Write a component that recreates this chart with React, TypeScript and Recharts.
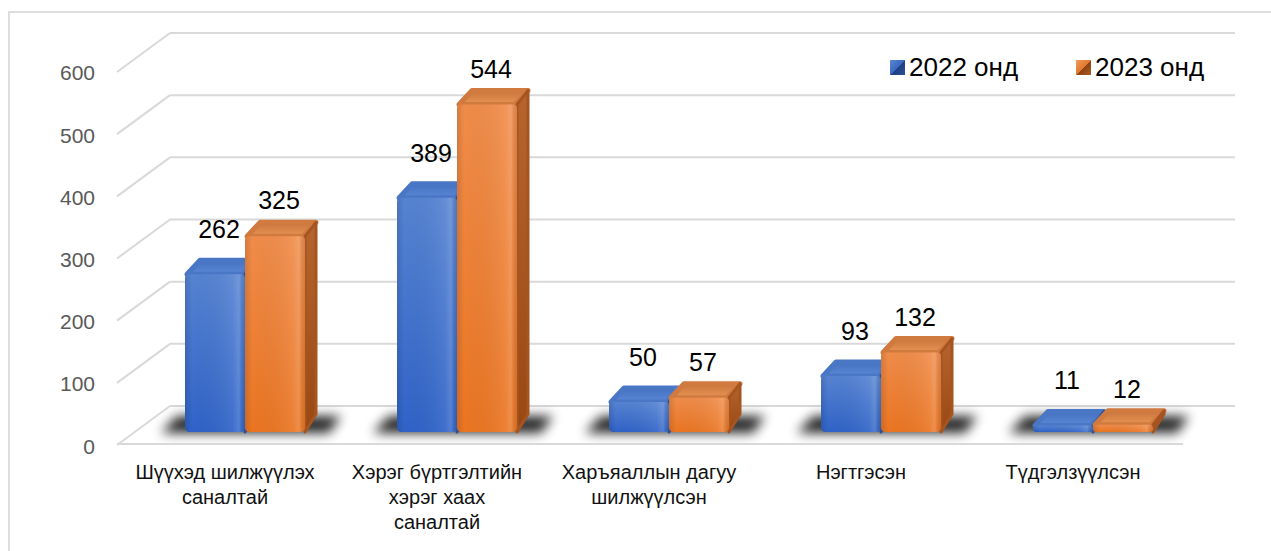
import React from 'react';
import { BarChart, Bar, XAxis, YAxis, CartesianGrid, LabelList, Legend, ReferenceLine } from 'recharts';

const categories = [
  'Шүүхэд шилжүүлэх саналтай',
  'Хэрэг бүртгэлтийн хэрэг хаах саналтай',
  'Харъяаллын дагуу шилжүүлсэн',
  'Нэгтгэсэн',
  'Түдгэлзүүлсэн',
];
const categoryLines = [
  ['Шүүхэд шилжүүлэх', 'саналтай'],
  ['Хэрэг бүртгэлтийн', 'хэрэг хаах', 'саналтай'],
  ['Харъяаллын дагуу', 'шилжүүлсэн'],
  ['Нэгтгэсэн'],
  ['Түдгэлзүүлсэн'],
];
const values2022 = [262, 389, 50, 93, 11];
const values2023 = [325, 544, 57, 132, 12];
const yTicks = [0, 100, 200, 300, 400, 500, 600];
const seriesNames = ['2022 онд', '2023 онд'];

const data = categories.map((name, i) => ({
  name,
  idx: i,
  y2022: values2022[i],
  y2023: values2023[i],
}));

const FONT = '"Liberation Sans", Arial, sans-serif';
const DX = 13;
const DY = -16;
const GRID = '#d9d9d9';

const makeShape = (kind: 'blue' | 'orange') => (props: any) => {
  const { x, y, width: w, height: h } = props;
  if (x == null || y == null) return <g />;
  const base = y + h;
  const front = kind === 'blue' ? 'url(#blueFront)' : 'url(#orangeFront)';
  const top = kind === 'blue' ? 'url(#blueTop)' : 'url(#orangeTop)';
  const topStroke = kind === 'blue' ? '#4a76c6' : '#d07a40';
  const side = kind === 'blue' ? 'url(#blueSide)' : 'url(#orangeSide)';
  const sideStroke = kind === 'blue' ? '#2c4f98' : '#a65420';
  const i = 2;
  const topPts = `${x + i},${y} ${x + DX + i},${y + DY + i} ${x + w + DX - i},${y + DY + i} ${x + w - i},${y}`;
  const sidePts = `${x + w},${y} ${x + w + DX - i},${y + DY + i} ${x + w + DX - i},${base + DY - i} ${x + w},${base}`;
  const r = Math.min(5, h / 2);
  const rt = Math.min(4, h / 2);
  const frontPath = `M${x},${y + rt} Q${x},${y} ${x + rt},${y} L${x + w - rt},${y} Q${x + w},${y} ${x + w},${y + rt} L${x + w},${base - r} Q${x + w},${base} ${x + w - r},${base} L${x + r},${base} Q${x},${base} ${x},${base - r} Z`;
  return (
    <g>
      {kind === 'blue' && (
        <polygon
          points={`${x - 24},${base + 1} ${x + 2 * w + 24},${base + 1} ${x + 2 * w + 36},${base - 16} ${x - 8},${base - 16}`}
          fill="#000"
          opacity={0.85}
          filter="url(#shBlur)"
        />
      )}
      <polygon points={topPts} fill={top} stroke={topStroke} strokeWidth={5} strokeLinejoin="round" />
      <polygon points={sidePts} fill={side} stroke={sideStroke} strokeWidth={3} strokeLinejoin="round" />
      <path d={frontPath} fill={front} />
      <path d={frontPath} fill="url(#frontShade)" />
    </g>
  );
};

const makeLabel = (dyOff: number) => (props: any) => {
  const { x, y, width, value } = props;
  return (
    <text
      x={x + width / 2 + 4}
      y={y - dyOff}
      textAnchor="middle"
      fontFamily={FONT}
      fontSize={25}
      fill="#000"
    >
      {value}
    </text>
  );
};

const GridLine = (p: any) => {
  const { x1, x2, y1, index } = p;
  const top = p.y;
  const bottom = p.y != null && p.height != null ? p.y + p.height : undefined;
  if (top != null && Math.abs(y1 - top) < 0.5) return <g key={`gl-${index}`} />;
  if (bottom != null && Math.abs(y1 - bottom) < 0.5) return <g key={`gl-${index}`} />;
  const bx1 = x1 + 31;
  const bx2 = x2 + 36;
  const fx = x1 - 22;
  const fy = y1 + 39;
  return (
    <g key={`gl-${index}`}>
      <line x1={fx} y1={fy} x2={bx1} y2={y1} stroke={GRID} strokeWidth={2} />
      <line x1={bx1} y1={y1} x2={bx2} y2={y1} stroke={GRID} strokeWidth={2} />
    </g>
  );
};

const FloorLine = (p: any) => {
  const { x1, x2, y1 } = p;
  return <line x1={x1 - 22} y1={y1 + 38} x2={x2 - 16} y2={y1 + 38} stroke={GRID} strokeWidth={2} />;
};

const YTick = (p: any) => {
  const { x, y, payload } = p;
  return (
    <text x={x + 16} y={y + 40} textAnchor="end" dominantBaseline="central" fontFamily={FONT} fontSize={21} fill="#595959">
      {payload.value}
    </text>
  );
};

const XTick = (p: any) => {
  const { x, y, payload, index } = p;
  const i = typeof index === 'number' ? index : categories.indexOf(payload.value);
  const lines = categoryLines[i] || [payload.value];
  return (
    <g>
      {lines.map((ln, k) => (
        <text key={k} x={x - 20} y={y + 47 + k * 25} textAnchor="middle" fontFamily={FONT} fontSize={20} fill="#111">
          {ln}
        </text>
      ))}
    </g>
  );
};

const LegendContent = () => (
  <div style={{ position: 'relative', height: 0, width: 1271 }}>
    {seriesNames.map((n, i) => (
      <div
        key={n}
        style={{
          position: 'absolute',
          left: i === 0 ? 890 : 1076,
          top: 54,
          display: 'flex',
          alignItems: 'center',
          fontFamily: FONT,
          fontSize: 26,
          lineHeight: '26px',
          color: '#000',
          whiteSpace: 'nowrap',
        }}
      >
        <span
          style={{
            display: 'inline-block',
            width: 15,
            height: 15,
            marginRight: 4,
            background:
              i === 0
                ? 'linear-gradient(135deg, #5b87d4 0%, #3b69bf 50%, #1f3f80 51%, #2b529c 100%)'
                : 'linear-gradient(135deg, #f29a5a 0%, #e07a30 50%, #8a4312 51%, #b05a1e 100%)',
          }}
        />
        <span>{n}</span>
      </div>
    ))}
  </div>
);

export default function App() {
  return (
    <div style={{ position: 'absolute', left: 0, top: 0, width: 1271, height: 551, overflow: 'hidden', background: '#fff' }}>
      <div
        style={{
          position: 'absolute',
          left: 8,
          top: 11,
          width: 1400,
          height: 700,
          border: '2px solid #dedede',
          boxSizing: 'border-box',
        }}
      />
      <svg width={0} height={0} style={{ position: 'absolute' }}>
        <defs>
          <linearGradient id="blueFront" x1="0" y1="0" x2="0" y2="1">
            <stop offset="0%" stopColor="#5683d2" />
            <stop offset="100%" stopColor="#2f63c8" />
          </linearGradient>
          <linearGradient id="blueTop" x1="0" y1="0" x2="0" y2="1">
            <stop offset="0%" stopColor="#4470c0" />
            <stop offset="100%" stopColor="#5b88d6" />
          </linearGradient>
          <linearGradient id="blueSide" x1="0" y1="0" x2="0" y2="1">
            <stop offset="0%" stopColor="#3a62ad" />
            <stop offset="100%" stopColor="#223f85" />
          </linearGradient>
          <linearGradient id="orangeFront" x1="0" y1="0" x2="0" y2="1">
            <stop offset="0%" stopColor="#f08c4a" />
            <stop offset="100%" stopColor="#ea7522" />
          </linearGradient>
          <linearGradient id="orangeTop" x1="0" y1="0" x2="0" y2="1">
            <stop offset="0%" stopColor="#c8743c" />
            <stop offset="100%" stopColor="#e99556" />
          </linearGradient>
          <linearGradient id="orangeSide" x1="0" y1="0" x2="0" y2="1">
            <stop offset="0%" stopColor="#b6652f" />
            <stop offset="100%" stopColor="#9a4812" />
          </linearGradient>
          <linearGradient id="frontShade" x1="0" y1="0" x2="1" y2="0">
            <stop offset="0%" stopColor="#000" stopOpacity={0.12} />
            <stop offset="12%" stopColor="#000" stopOpacity={0} />
            <stop offset="80%" stopColor="#fff" stopOpacity={0.08} />
            <stop offset="90%" stopColor="#fff" stopOpacity={0.18} />
            <stop offset="100%" stopColor="#000" stopOpacity={0.08} />
          </linearGradient>
          <filter id="shBlur" x="-50%" y="-150%" width="200%" height="400%">
            <feGaussianBlur stdDeviation="6" />
          </filter>
        </defs>
      </svg>
      <div style={{ position: 'absolute', left: 0, top: 0 }}>
        <BarChart
          width={1271}
          height={551}
          data={data}
          margin={{ top: 20, right: 72, bottom: 19, left: 79 }}
          barSize={60}
          barGap={0}
        >
          <CartesianGrid yAxisId="grid" vertical={false} horizontal={GridLine} />
          <XAxis
            dataKey="name"
            type="category"
            height={100}
            axisLine={false}
            tickLine={false}
            tickSize={0}
            tickMargin={0}
            interval={0}
            tick={<XTick />}
          />
          <YAxis
            yAxisId="grid"
            type="number"
            width={60}
            domain={[-41.82, 620.9]}
            allowDataOverflow
            ticks={yTicks}
            axisLine={false}
            tickLine={false}
            tickSize={0}
            tickMargin={0}
            tick={<YTick />}
          />
          <YAxis yAxisId="bars" type="number" hide domain={[0, 684.4]} />
          <ReferenceLine yAxisId="grid" y={0} shape={FloorLine} />
          <Legend verticalAlign="top" wrapperStyle={{ left: 0, top: 0, width: 1271, height: 0 }} content={<LegendContent />} />
          <Bar yAxisId="bars" dataKey="y2022" name={seriesNames[0]} isAnimationActive={false} shape={makeShape('blue')}>
            <LabelList dataKey="y2022" content={makeLabel(36)} />
          </Bar>
          <Bar yAxisId="bars" dataKey="y2023" name={seriesNames[1]} isAnimationActive={false} shape={makeShape('orange')}>
            <LabelList dataKey="y2023" content={makeLabel(27)} />
          </Bar>
        </BarChart>
      </div>
    </div>
  );
}
